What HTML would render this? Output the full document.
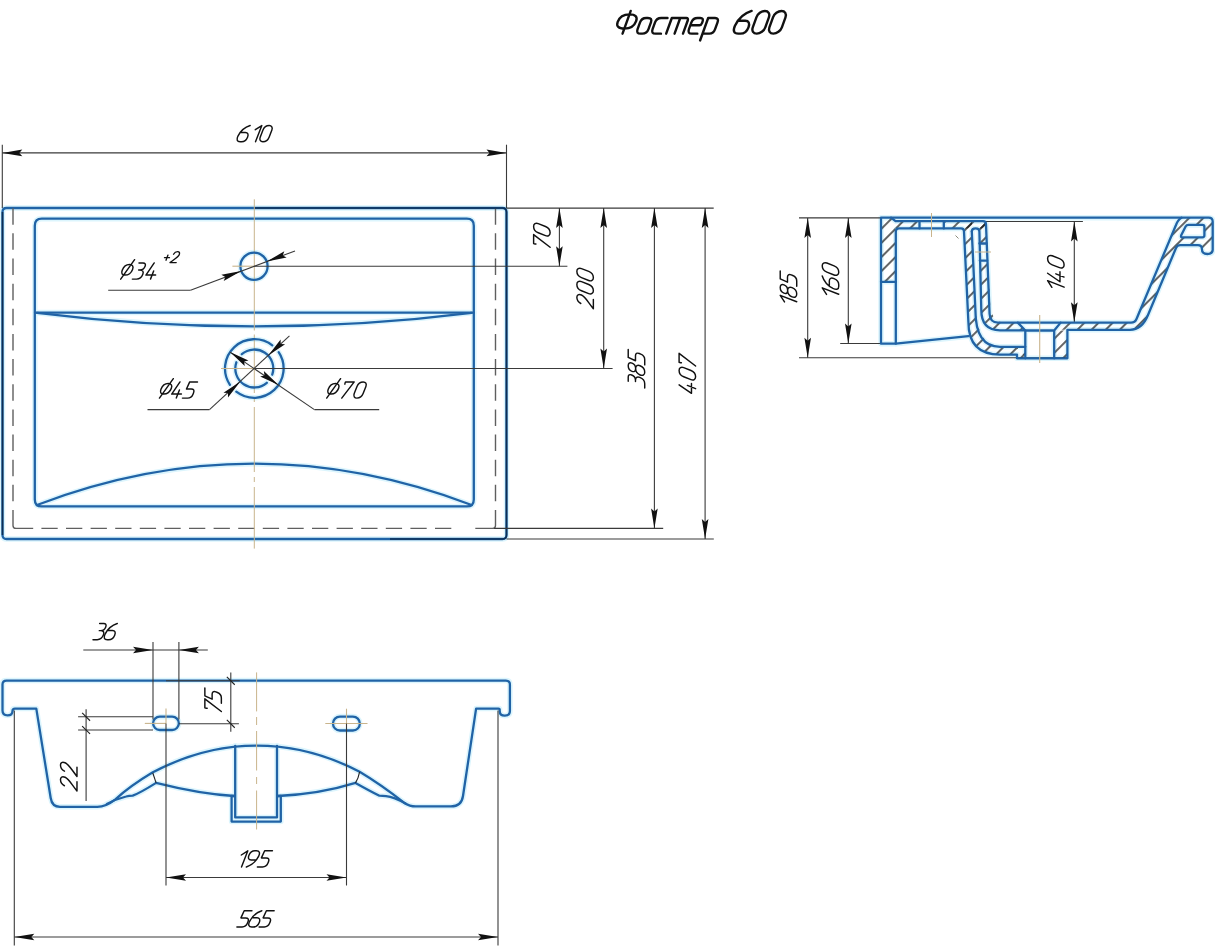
<!DOCTYPE html>
<html><head><meta charset="utf-8"><title>Фостер 600</title>
<style>
html,body{margin:0;padding:0;background:#fff;}
body{width:1215px;height:948px;overflow:hidden;font-family:"Liberation Sans",sans-serif;}
svg{display:block;}
.b{fill:none;stroke:#2063a6;stroke-width:2.3;stroke-linejoin:round;stroke-linecap:round;}
.k{stroke:#3a3a3a;stroke-width:1.1;fill:none;}
.k2{stroke:#222;stroke-width:1.1;fill:none;}
.c{stroke:#c9b48c;stroke-width:1.1;stroke-dasharray:48 4 4 4;fill:none;}
.dsh{fill:none;stroke:#5f5f5f;stroke-width:1.4;}
.k3{fill:none;stroke:#0d2f55;stroke-width:1.6;}
.k4{fill:none;stroke:#8a8a7a;stroke-width:1;}
.c2{stroke:#c9b48c;stroke-width:1.0;fill:none;}
.a{fill:#111;stroke:none;}
.h path{fill:none;stroke:#dcf5fd;stroke-width:5.5;stroke-linejoin:round;stroke-linecap:round;}
.t path{fill:none;stroke:#111;vector-effect:non-scaling-stroke;stroke-linecap:round;stroke-linejoin:round;}
.t{stroke-width:1.3;}
</style></head><body>
<svg width="1215" height="948" viewBox="0 0 1215 948">
<g class="h"><path d="M2.5,212 Q2.5,208 6.5,208 H502.5 Q506.5,208 506.5,212 V535 Q506.5,539 502.5,539 H6.5 Q2.5,539 2.5,535 Z"/><path d="M34.8,225.7 Q34.8,218.7 41.8,218.7 H466.8 Q473.8,218.7 473.8,225.7 V499.4 Q473.8,506.4 466.8,506.4 H41.8 Q34.8,506.4 34.8,499.4 Z"/><path d="M35,312.6 H473.8"/><path d="M37,312.8 Q254,340 471.6,312.8"/><path d="M37,505 Q254,422.4 471.6,505"/><path d="M240.4,266.2 A13.6,13.6 0 1 1 267.6,266.2 A13.6,13.6 0 1 1 240.4,266.2 Z"/><path d="M229.93,384.77 A29.3,29.3 0 0 1 272.31,345.39 M278.67,352.23 A29.3,29.3 0 0 1 236.29,391.61"/><path d="M266.79,382.82 A19,19 0 0 1 236.35,362.28 M241.81,354.18 A19,19 0 0 1 272.25,374.72"/><path d="M881,343.7 V217.7 H1208.7 Q1212.7,217.7 1212.7,221.7 V250 Q1212.7,254 1207.3,254 Q1201.9,254 1201.9,249 Q1201.9,245.2 1197.9,245.2 H1180.2 Q1177.2,245.2 1176,248 L1148,315 Q1142,329.8 1130,329.8 H1067.4 V358.3 H1017 V354.6 H1000 Q968.4,354.6 968.4,322 L964,231.5 Q964,228.4 961,228.4 H899 Q895.8,228.4 895.8,231.5 V343.7 Z"/><path d="M881,281.8 H895.8"/><path d="M895.8,343.7 L968.4,336.2"/><path d="M891,217.7 L895.5,221.2 H983 Q986,221.2 986,224.5 L989.6,314 Q990,322.6 998,322.6 H1131 Q1135,322.6 1136.5,319 L1176,225 Q1178,219.5 1181.5,217.7"/><path d="M919.5,221.2 V228.4 M943.8,221.2 V228.4"/><path d="M971.8,231.5 Q971.8,228.4 975.6,228.4 Q979.4,228.4 979.4,231.5 L981.3,310 Q981.3,330.3 1000,330.3 H1025.3"/><path d="M971.8,231.5 L975.4,310 Q975.4,346.8 1000,346.8 H1025.3"/><path d="M979.4,243.5 H986.5 M979.8,260.6 H987.2"/><path d="M1017.8,322.6 L1025.3,330.5 V358.3 M1060.6,322.6 L1054.2,330.5 V358.3 M1025.3,330.5 H1054.2"/><path d="M1188.5,224.9 H1202.4 Q1204.4,224.9 1204.4,226.9 V235.3 Q1204.4,237.3 1202.4,237.3 H1182.4 Q1180.4,237.3 1181.2,235.3 L1185.6,226.6 Q1186.5,224.9 1188.5,224.9 Z"/><path d="M2.5,684.6 Q2.5,680.6 6.5,680.6 H505.9 Q509.9,680.6 509.9,684.6 V711 Q509.9,715.7 504.8,715.7 Q499.7,715.7 499.7,711 V709.6 Q499.7,708.6 498.5,708.6 H476.1 L463,796 Q461.5,806.4 451,806.4 H415.6 Q410,806.4 404,802.7 Q381,784.6 359.6,771.8 Q310,745.6 256.6,745.6 Q203,745.6 152.4,772.6 Q130,786 115.4,799.4 Q106,806.8 97.3,806.8 H60 Q52,806.8 50.7,798 L36.3,708.6 H15 Q12.5,708.6 12.5,711 Q12.5,715.4 7.5,715.4 Q2.5,715.4 2.5,710.6 Z"/><path d="M106.8,804 Q116,799 126.1,796.5 Q129,795.7 132.7,795.7 Q140,793 156.1,782.9 Q200,794 234.2,796"/><path d="M405.5,803.5 Q394,797 386,796.1 Q383,795.7 379.4,795.7 Q370,791 355.5,782.9 Q320,794 278,796"/><path d="M235.2,745.8 V817.4 H277 V745.8"/><path d="M234.2,796 H231.6 V821.6 H280.8 V796 H278"/><path d="M159.7,716.7 H172.2 A6.65,6.65 0 0 1 172.2,730 H159.7 A6.65,6.65 0 0 1 159.7,716.7 Z"/><path d="M339.9,716.6 H352.9 A6.95,6.95 0 0 1 352.9,730.5 H339.9 A6.95,6.95 0 0 1 339.9,716.6 Z"/></g>
<line class="k" x1="2.3" y1="144.7" x2="2.3" y2="208"/>
<line class="k" x1="506.5" y1="144.7" x2="506.5" y2="208"/>
<line class="k" x1="2.3" y1="152.9" x2="506.5" y2="152.9"/>
<path class="a" d="M2.3,152.9 L22.3,149.6 L19.3,152.9 L22.3,156.2 Z"/>
<path class="a" d="M506.5,152.9 L486.5,156.2 L489.5,152.9 L486.5,149.6 Z"/>
<path class="b" d="M2.5,212 Q2.5,208 6.5,208 H502.5 Q506.5,208 506.5,212 V535 Q506.5,539 502.5,539 H6.5 Q2.5,539 2.5,535 Z"/>
<path class="dsh" d="M13,208.2 V224.7 M495.5,208.2 V224.7 M13,233.35 V249.85 M495.5,233.35 V249.85 M13,258.5 V275 M495.5,258.5 V275 M13,283.65 V300.15 M495.5,283.65 V300.15 M13,308.8 V325.3 M495.5,308.8 V325.3 M13,333.95 V350.45 M495.5,333.95 V350.45 M13,359.1 V375.6 M495.5,359.1 V375.6 M13,384.25 V400.75 M495.5,384.25 V400.75 M13,409.4 V425.9 M495.5,409.4 V425.9 M13,434.55 V451.05 M495.5,434.55 V451.05 M13,459.7 V476.2 M495.5,459.7 V476.2 M13,484.85 V501.35 M495.5,484.85 V501.35 M13,510 V525.4 Q13,528.4 16,528.4 H33.2 M495.5,510 V525.4 Q495.5,528.4 492.5,528.4 H475.3 M41.4,528.4 H57.7 M66,528.4 H82.3 M90.6,528.4 H106.9 M115.2,528.4 H131.5 M139.8,528.4 H156.1 M164.4,528.4 H180.7 M189,528.4 H205.3 M213.6,528.4 H229.9 M238.2,528.4 H254.5 M262.8,528.4 H279.1 M287.4,528.4 H303.7 M312,528.4 H328.3 M336.6,528.4 H352.9 M361.2,528.4 H377.5 M385.8,528.4 H402.1 M410.4,528.4 H426.7 M435,528.4 H451.3"/>
<path class="k3" d="M254,208 H502.5 Q506.5,208 506.5,212 V535 Q506.5,539 502.5,539 H390 M2.5,212 V535"/>
<path class="b" d="M34.8,225.7 Q34.8,218.7 41.8,218.7 H466.8 Q473.8,218.7 473.8,225.7 V499.4 Q473.8,506.4 466.8,506.4 H41.8 Q34.8,506.4 34.8,499.4 Z"/>
<path class="b" d="M35,312.6 H473.8"/>
<path class="b" d="M37,312.8 Q254,340 471.6,312.8"/>
<path class="b" d="M37,505 Q254,422.4 471.6,505"/>
<path class="c2" d="M254.3,199.3 V330.5 M254.3,334.5 V393 M254.3,398 V402 M254.3,407 V472 M254.3,477 V482 M254.3,487 V548.6"/>
<path class="b" d="M240.4,266.2 A13.6,13.6 0 1 1 267.6,266.2 A13.6,13.6 0 1 1 240.4,266.2 Z"/>
<line class="c" x1="232.4" y1="266.2" x2="254" y2="266.2"/>
<line class="k" x1="254" y1="266.2" x2="567.4" y2="266.2"/>
<line class="k" x1="295" y1="250.9" x2="190.5" y2="290.2"/>
<line class="k" x1="190.5" y1="290.2" x2="108.2" y2="290.2"/>
<path class="a" d="M241.26,270.96 L223.68,281.05 L225.33,276.91 L221.37,274.87 Z"/>
<path class="a" d="M266.74,261.44 L284.32,251.35 L282.67,255.49 L286.63,257.53 Z"/>
<path class="b" d="M229.93,384.77 A29.3,29.3 0 0 1 272.31,345.39 M278.67,352.23 A29.3,29.3 0 0 1 236.29,391.61"/>
<path class="b" d="M266.79,382.82 A19,19 0 0 1 236.35,362.28 M241.81,354.18 A19,19 0 0 1 272.25,374.72"/>
<line class="c" x1="221" y1="368.5" x2="254.3" y2="368.5"/>
<line class="k" x1="254.3" y1="368.5" x2="612.6" y2="368.5"/>
<line class="k" x1="289.46" y1="335.83" x2="209.5" y2="409.6"/>
<line class="k" x1="209.5" y1="409.6" x2="147.5" y2="409.6"/>
<path class="a" d="M268.22,355.57 L280.62,339.53 L280.67,343.99 L285.12,344.37 Z"/>
<path class="a" d="M240.38,381.43 L227.98,397.47 L227.93,393.01 L223.48,392.63 Z"/>
<line class="k" x1="230.01" y1="352.12" x2="314.4" y2="409.6"/>
<line class="k" x1="314.4" y1="409.6" x2="379.2" y2="409.6"/>
<path class="a" d="M230.01,352.12 L248.44,360.56 L244.1,361.62 L244.74,366.04 Z"/>
<path class="a" d="M278.59,384.88 L260.16,376.44 L264.5,375.38 L263.86,370.96 Z"/>
<line class="k" x1="506.5" y1="208.1" x2="713.7" y2="208.1"/>
<line class="k" x1="494" y1="528.4" x2="663.2" y2="528.4"/>
<line class="k" x1="506.5" y1="539" x2="713.8" y2="539"/>
<line class="k" x1="559.4" y1="208.1" x2="559.4" y2="266.2"/>
<path class="a" d="M559.4,208.1 L562.7,228.1 L559.4,225.1 L556.1,228.1 Z"/>
<path class="a" d="M559.4,266.2 L556.1,246.2 L559.4,249.2 L562.7,246.2 Z"/>
<line class="k" x1="603.7" y1="208.1" x2="603.7" y2="368.5"/>
<path class="a" d="M603.7,208.1 L607,228.1 L603.7,225.1 L600.4,228.1 Z"/>
<path class="a" d="M603.7,368.5 L600.4,348.5 L603.7,351.5 L607,348.5 Z"/>
<line class="k" x1="654.4" y1="208.1" x2="654.4" y2="528.4"/>
<path class="a" d="M654.4,208.1 L657.7,228.1 L654.4,225.1 L651.1,228.1 Z"/>
<path class="a" d="M654.4,528.4 L651.1,508.4 L654.4,511.4 L657.7,508.4 Z"/>
<line class="k" x1="705.1" y1="208.1" x2="705.1" y2="539"/>
<path class="a" d="M705.1,208.1 L708.4,228.1 L705.1,225.1 L701.8,228.1 Z"/>
<path class="a" d="M705.1,539 L701.8,519 L705.1,522 L708.4,519 Z"/>
<line class="k" x1="799" y1="217.9" x2="881" y2="217.9"/>
<line class="k" x1="840.2" y1="343.5" x2="882" y2="343.5"/>
<line class="k" x1="799" y1="357.8" x2="1067" y2="357.8"/>
<line class="k" x1="985" y1="221.5" x2="1082.9" y2="221.5"/>
<line class="k" x1="807.7" y1="217.9" x2="807.7" y2="357.8"/>
<path class="a" d="M807.7,217.9 L811,237.9 L807.7,234.9 L804.4,237.9 Z"/>
<path class="a" d="M807.7,357.8 L804.4,337.8 L807.7,340.8 L811,337.8 Z"/>
<line class="k" x1="848.3" y1="217.9" x2="848.3" y2="343.5"/>
<path class="a" d="M848.3,217.9 L851.6,237.9 L848.3,234.9 L845,237.9 Z"/>
<path class="a" d="M848.3,343.5 L845,323.5 L848.3,326.5 L851.6,323.5 Z"/>
<line class="k" x1="1074.3" y1="221.5" x2="1074.3" y2="322.3"/>
<path class="a" d="M1074.3,221.5 L1077.6,241.5 L1074.3,238.5 L1071,241.5 Z"/>
<path class="a" d="M1074.3,322.3 L1071,302.3 L1074.3,305.3 L1077.6,302.3 Z"/>
<defs><pattern id="hp" patternUnits="userSpaceOnUse" width="10" height="10" patternTransform="rotate(45)"><line x1="5" y1="0" x2="5" y2="10" stroke="#000" stroke-width="1.2"/></pattern></defs>
<path d="M881,217.7 H891 L895.5,221.2 V281.8 H881 Z" fill="url(#hp)" fill-rule="evenodd" stroke="none"/>
<path d="M895.5,221.2 H919.5 V228.4 H895.5 Z" fill="url(#hp)" fill-rule="evenodd" stroke="none"/>
<path d="M943.8,221.2 H986 V228.4 H943.8 Z" fill="url(#hp)" fill-rule="evenodd" stroke="none"/>
<path d="M964,221.2 H972 L975.4,300 Q975.4,346.5 1000,346.5 H1025.3 V354.6 H1000 Q968.4,354.6 968.4,320 L964,228 Z" fill="url(#hp)" fill-rule="evenodd" stroke="none"/>
<path d="M979.4,228 V221.2 H986 L990,300 Q990,322.6 1005,322.6 H1017.8 L1025.3,330.5 H1000 Q981.3,330.5 981.3,310 L979.4,260.6 H986 V243.5 H979.4 Z" fill="url(#hp)" fill-rule="evenodd" stroke="none"/>
<path d="M1060.6,322.6 H1134 L1179.7,217.7 H1212.7 V254 L1201.9,254 V245.2 H1177.2 L1145,322.6 Q1141,329.8 1134,329.8 H1054.2 Z M1188.5,224.9 H1202.4 Q1204.4,224.9 1204.4,226.9 V235.3 Q1204.4,237.3 1202.4,237.3 H1182.4 Q1180.4,237.3 1181.2,235.3 L1185.6,226.6 Q1186.5,224.9 1188.5,224.9 Z" fill="url(#hp)" fill-rule="evenodd" stroke="none"/>
<path d="M1054.2,330.5 H1067.4 V358.3 H1054.2 Z" fill="url(#hp)" fill-rule="evenodd" stroke="none"/>
<path d="M1017,347 H1025.3 V358.3 H1017 Z" fill="url(#hp)" fill-rule="evenodd" stroke="none"/>
<path class="b" d="M881,343.7 V217.7 H1208.7 Q1212.7,217.7 1212.7,221.7 V250 Q1212.7,254 1207.3,254 Q1201.9,254 1201.9,249 Q1201.9,245.2 1197.9,245.2 H1180.2 Q1177.2,245.2 1176,248 L1148,315 Q1142,329.8 1130,329.8 H1067.4 V358.3 H1017 V354.6 H1000 Q968.4,354.6 968.4,322 L964,231.5 Q964,228.4 961,228.4 H899 Q895.8,228.4 895.8,231.5 V343.7 Z"/>
<path class="b" d="M881,281.8 H895.8"/>
<path class="b" d="M895.8,343.7 L968.4,336.2"/>
<path class="b" d="M891,217.7 L895.5,221.2 H983 Q986,221.2 986,224.5 L989.6,314 Q990,322.6 998,322.6 H1131 Q1135,322.6 1136.5,319 L1176,225 Q1178,219.5 1181.5,217.7"/>
<path class="b" d="M919.5,221.2 V228.4 M943.8,221.2 V228.4"/>
<path class="b" d="M971.8,231.5 Q971.8,228.4 975.6,228.4 Q979.4,228.4 979.4,231.5 L981.3,310 Q981.3,330.3 1000,330.3 H1025.3"/>
<path class="b" d="M971.8,231.5 L975.4,310 Q975.4,346.8 1000,346.8 H1025.3"/>
<path class="b" d="M979.4,243.5 H986.5 M979.8,260.6 H987.2"/>
<path class="b" d="M1017.8,322.6 L1025.3,330.5 V358.3 M1060.6,322.6 L1054.2,330.5 V358.3 M1025.3,330.5 H1054.2"/>
<path class="b" d="M1188.5,224.9 H1202.4 Q1204.4,224.9 1204.4,226.9 V235.3 Q1204.4,237.3 1202.4,237.3 H1182.4 Q1180.4,237.3 1181.2,235.3 L1185.6,226.6 Q1186.5,224.9 1188.5,224.9 Z"/>
<line class="c2" x1="931.5" y1="213" x2="931.5" y2="237"/>
<line class="k4" x1="955.5" y1="235.5" x2="958.5" y2="238.5"/>
<line class="c2" x1="975" y1="252" x2="991" y2="252"/>
<line class="c" x1="1039.7" y1="315" x2="1039.7" y2="364"/>
<path class="b" d="M2.5,684.6 Q2.5,680.6 6.5,680.6 H505.9 Q509.9,680.6 509.9,684.6 V711 Q509.9,715.7 504.8,715.7 Q499.7,715.7 499.7,711 V709.6 Q499.7,708.6 498.5,708.6 H476.1 L463,796 Q461.5,806.4 451,806.4 H415.6 Q410,806.4 404,802.7 Q381,784.6 359.6,771.8 Q310,745.6 256.6,745.6 Q203,745.6 152.4,772.6 Q130,786 115.4,799.4 Q106,806.8 97.3,806.8 H60 Q52,806.8 50.7,798 L36.3,708.6 H15 Q12.5,708.6 12.5,711 Q12.5,715.4 7.5,715.4 Q2.5,715.4 2.5,710.6 Z"/>
<path class="b" d="M106.8,804 Q116,799 126.1,796.5 Q129,795.7 132.7,795.7 Q140,793 156.1,782.9 Q200,794 234.2,796"/>
<path class="b" d="M405.5,803.5 Q394,797 386,796.1 Q383,795.7 379.4,795.7 Q370,791 355.5,782.9 Q320,794 278,796"/>
<line class="k2" x1="152.8" y1="773" x2="156.1" y2="782.9"/>
<path class="k2" d="M359.6,771.8 Q358.5,778 355.5,782.9"/>
<path class="b" d="M235.2,745.8 V817.4 H277 V745.8"/>
<path class="b" d="M234.2,796 H231.6 V821.6 H280.8 V796 H278"/>
<path class="b" d="M159.7,716.7 H172.2 A6.65,6.65 0 0 1 172.2,730 H159.7 A6.65,6.65 0 0 1 159.7,716.7 Z"/>
<path class="b" d="M339.9,716.6 H352.9 A6.95,6.95 0 0 1 352.9,730.5 H339.9 A6.95,6.95 0 0 1 339.9,716.6 Z"/>
<path class="c2" d="M256.6,672.4 V711.4 M256.6,717 V725 M256.6,731 V770.5 M256.6,777 V784 M256.6,790.5 V829.5"/>
<line class="c" x1="144.8" y1="723.4" x2="166" y2="723.4"/>
<line class="c" x1="166" y1="708.5" x2="166" y2="723.4"/>
<line class="c" x1="325.3" y1="723.5" x2="367.5" y2="723.5"/>
<line class="c" x1="346.5" y1="708.7" x2="346.5" y2="723.5"/>
<line class="k" x1="153" y1="641.9" x2="153" y2="719.6"/>
<line class="k" x1="178.9" y1="641.9" x2="178.9" y2="719.6"/>
<line class="k" x1="83.3" y1="650" x2="207.8" y2="650"/>
<path class="a" d="M153,650 L133,653.3 L136,650 L133,646.7 Z"/>
<path class="a" d="M178.9,650 L198.9,646.7 L195.9,650 L198.9,653.3 Z"/>
<line class="k" x1="166" y1="680.8" x2="239.8" y2="680.8"/>
<line class="k" x1="178.9" y1="723.8" x2="238.9" y2="723.8"/>
<line class="k" x1="230.8" y1="672.5" x2="230.8" y2="731.8"/>
<line class="k2" x1="226.84" y1="676.84" x2="234.76" y2="684.76"/>
<line class="k2" x1="226.84" y1="719.84" x2="234.76" y2="727.76"/>
<line class="k" x1="78.1" y1="716.8" x2="153" y2="716.8"/>
<line class="k" x1="78.1" y1="730" x2="153" y2="730"/>
<line class="k" x1="86.1" y1="709.3" x2="86.1" y2="801"/>
<line class="k2" x1="82.14" y1="712.84" x2="90.06" y2="720.76"/>
<line class="k2" x1="82.14" y1="726.04" x2="90.06" y2="733.96"/>
<line class="k" x1="14.3" y1="710.5" x2="14.3" y2="945.6"/>
<line class="k" x1="498" y1="710.5" x2="498" y2="945.6"/>
<line class="k" x1="166" y1="723.4" x2="166" y2="885.5"/>
<line class="k" x1="346.5" y1="723.5" x2="346.5" y2="885.5"/>
<line class="k" x1="166" y1="877.5" x2="346.5" y2="877.5"/>
<path class="a" d="M166,877.5 L186,874.2 L183,877.5 L186,880.8 Z"/>
<path class="a" d="M346.5,877.5 L326.5,880.8 L329.5,877.5 L326.5,874.2 Z"/>
<line class="k" x1="14.3" y1="937" x2="498" y2="937"/>
<path class="a" d="M14.3,937 L34.3,933.7 L31.3,937 L34.3,940.3 Z"/>
<path class="a" d="M498,937 L478,940.3 L481,937 L478,933.7 Z"/>
<g class="t" id="t_title" transform="translate(613.44,33.66) matrix(22.73,0,-8.18,22.73,0,0)" style="stroke-width:2.4"><path transform="translate(0,0)" d="M0.4,-1 V0 M0.4,-0.85 C0.13,-0.85 0,-0.72 0,-0.52 C0,-0.32 0.15,-0.22 0.4,-0.22 C0.66,-0.22 0.8,-0.35 0.8,-0.55 C0.8,-0.75 0.66,-0.85 0.4,-0.85 Z"/><path transform="translate(0.99,0)" d="M0,-0.5 V-0.2 C0,-0.06 0.07,0 0.2,0 H0.28 C0.41,0 0.48,-0.06 0.48,-0.2 V-0.5 C0.48,-0.63 0.41,-0.69 0.28,-0.69 H0.2 C0.07,-0.69 0,-0.63 0,-0.5 Z"/><path transform="translate(1.65,0)" d="M0.48,-0.69 H0.2 C0.07,-0.69 0,-0.63 0,-0.5 V-0.2 C0,-0.06 0.07,0 0.2,0 H0.44"/><path transform="translate(2.32,0)" d="M0,0 V-0.69 H0.64 C0.7,-0.69 0.74,-0.65 0.74,-0.58 V0 M0.37,-0.69 V0"/><path transform="translate(3.25,0)" d="M0.44,0 H0.2 C0.07,0 0,-0.06 0,-0.2 V-0.5 C0,-0.63 0.07,-0.69 0.2,-0.69 H0.32 C0.43,-0.69 0.48,-0.63 0.48,-0.53 V-0.46 C0.48,-0.4 0.45,-0.37 0.4,-0.37 H0"/><path transform="translate(3.92,0)" d="M0,0.3 V-0.69 H0.3 C0.42,-0.69 0.48,-0.63 0.48,-0.5 V-0.2 C0.48,-0.06 0.42,0 0.3,0 H0"/><path transform="translate(5.22,0)" d="M0.5,-1 C0.22,-0.9 0.04,-0.68 0,-0.35 C-0.02,-0.12 0.08,0 0.27,0 H0.36 C0.53,0 0.62,-0.11 0.62,-0.28 C0.62,-0.46 0.53,-0.57 0.37,-0.57 H0.08"/><path transform="translate(6.03,0)" d="M0,-0.72 V-0.28 A0.275,0.28 0 0 0 0.55,-0.28 V-0.72 A0.275,0.28 0 0 0 0,-0.72 Z"/><path transform="translate(6.76,0)" d="M0,-0.72 V-0.28 A0.275,0.28 0 0 0 0.55,-0.28 V-0.72 A0.275,0.28 0 0 0 0,-0.72 Z"/></g>
<g class="t" id="t_610" transform="translate(235.74,141.72) matrix(16.2,0,-6.32,16.2,0,0)" style="stroke-width:1.45"><path transform="translate(0,0)" d="M0.5,-1 C0.22,-0.9 0.04,-0.68 0,-0.35 C-0.02,-0.12 0.08,0 0.27,0 H0.36 C0.53,0 0.62,-0.11 0.62,-0.28 C0.62,-0.46 0.53,-0.57 0.37,-0.57 H0.08"/><path transform="translate(0.8,0)" d="M0.12,-0.74 L0.42,-1 V0"/><path transform="translate(1.4,0)" d="M0,-0.72 V-0.28 A0.275,0.28 0 0 0 0.55,-0.28 V-0.72 A0.275,0.28 0 0 0 0,-0.72 Z"/></g>
<g class="t" id="t_o34" transform="translate(118.58,279.12) matrix(16.2,0,-6.32,16.2,0,0)" style="stroke-width:1.45"><path transform="translate(0,0)" d="M0.32,-0.9 C0.14,-0.9 0.01,-0.76 0.01,-0.55 C0.01,-0.36 0.12,-0.25 0.3,-0.25 C0.49,-0.25 0.63,-0.39 0.63,-0.6 C0.63,-0.79 0.51,-0.9 0.32,-0.9 Z M0.13,0 L0.52,-1.2"/><path transform="translate(0.85,0)" d="M0.02,-1 H0.27 C0.4,-1 0.48,-0.92 0.48,-0.79 C0.48,-0.65 0.39,-0.56 0.25,-0.56 H0.17 M0.25,-0.56 C0.42,-0.56 0.53,-0.46 0.53,-0.3 C0.53,-0.11 0.42,0 0.26,0 H0"/><path transform="translate(1.59,0)" d="M0.22,-1 L0,-0.25 H0.6 M0.38,-0.5 V0"/></g>
<g class="t" id="t_p2" transform="translate(162.58,262.6) matrix(11,0,-4.29,11,0,0)" style="stroke-width:1.35"><path transform="translate(0,0)" d="M0,-0.45 H0.45 M0.225,-0.68 V-0.22"/><path transform="translate(0.68,0)" d="M0.02,-0.76 C0.05,-0.95 0.2,-1 0.3,-1 C0.45,-1 0.55,-0.9 0.55,-0.72 C0.55,-0.5 0.3,-0.35 0,0 H0.56"/></g>
<g class="t" id="t_o45" transform="translate(157.32,398.1) matrix(16.2,0,-6.32,16.2,0,0)" style="stroke-width:1.45"><path transform="translate(0,0)" d="M0.32,-0.9 C0.14,-0.9 0.01,-0.76 0.01,-0.55 C0.01,-0.36 0.12,-0.25 0.3,-0.25 C0.49,-0.25 0.63,-0.39 0.63,-0.6 C0.63,-0.79 0.51,-0.9 0.32,-0.9 Z M0.13,0 L0.52,-1.2"/><path transform="translate(0.79,0)" d="M0.22,-1 L0,-0.25 H0.6 M0.38,-0.5 V0"/><path transform="translate(1.55,0)" d="M0.54,-1 H0.06 L0.03,-0.56 H0.33 C0.47,-0.56 0.56,-0.48 0.56,-0.33 V-0.24 C0.56,-0.09 0.47,0 0.32,0 H0"/></g>
<g class="t" id="t_o70" transform="translate(324.58,398.1) matrix(16.2,0,-6.32,16.2,0,0)" style="stroke-width:1.45"><path transform="translate(0,0)" d="M0.32,-0.9 C0.14,-0.9 0.01,-0.76 0.01,-0.55 C0.01,-0.36 0.12,-0.25 0.3,-0.25 C0.49,-0.25 0.63,-0.39 0.63,-0.6 C0.63,-0.79 0.51,-0.9 0.32,-0.9 Z M0.13,0 L0.52,-1.2"/><path transform="translate(0.9,0)" d="M0.02,-0.86 Q0,-0.9 0,-0.95 V-1 H0.54 L0.16,0"/><path transform="translate(1.72,0)" d="M0,-0.72 V-0.28 A0.275,0.28 0 0 0 0.55,-0.28 V-0.72 A0.275,0.28 0 0 0 0,-0.72 Z"/></g>
<g class="t" id="t_70" transform="translate(550.12,249.94) rotate(-90) matrix(16.5,0,-6.44,16.5,0,0)" style="stroke-width:1.45"><path transform="translate(0,0)" d="M0.02,-0.86 Q0,-0.9 0,-0.95 V-1 H0.54 L0.16,0"/><path transform="translate(0.76,0)" d="M0,-0.72 V-0.28 A0.275,0.28 0 0 0 0.55,-0.28 V-0.72 A0.275,0.28 0 0 0 0,-0.72 Z"/></g>
<g class="t" id="t_200" transform="translate(593.36,308.72) rotate(-90) matrix(16.5,0,-6.44,16.5,0,0)" style="stroke-width:1.45"><path transform="translate(0,0)" d="M0.02,-0.76 C0.05,-0.95 0.2,-1 0.3,-1 C0.45,-1 0.55,-0.9 0.55,-0.72 C0.55,-0.5 0.3,-0.35 0,0 H0.56"/><path transform="translate(0.81,0)" d="M0,-0.72 V-0.28 A0.275,0.28 0 0 0 0.55,-0.28 V-0.72 A0.275,0.28 0 0 0 0,-0.72 Z"/><path transform="translate(1.6,0)" d="M0,-0.72 V-0.28 A0.275,0.28 0 0 0 0.55,-0.28 V-0.72 A0.275,0.28 0 0 0 0,-0.72 Z"/></g>
<g class="t" id="t_385" transform="translate(644.72,387.98) rotate(-90) matrix(16.5,0,-6.44,16.5,0,0)" style="stroke-width:1.45"><path transform="translate(0,0)" d="M0.02,-1 H0.27 C0.4,-1 0.48,-0.92 0.48,-0.79 C0.48,-0.65 0.39,-0.56 0.25,-0.56 H0.17 M0.25,-0.56 C0.42,-0.56 0.53,-0.46 0.53,-0.3 C0.53,-0.11 0.42,0 0.26,0 H0"/><path transform="translate(0.68,0)" d="M0.28,-0.55 C0.12,-0.55 0.03,-0.63 0.03,-0.77 C0.03,-0.92 0.13,-1 0.28,-1 C0.43,-1 0.53,-0.92 0.53,-0.77 C0.53,-0.63 0.44,-0.55 0.28,-0.55 C0.1,-0.55 0,-0.44 0,-0.28 C0,-0.1 0.12,0 0.28,0 C0.44,0 0.56,-0.1 0.56,-0.28 C0.56,-0.44 0.46,-0.55 0.28,-0.55 Z"/><path transform="translate(1.4,0)" d="M0.54,-1 H0.06 L0.03,-0.56 H0.33 C0.47,-0.56 0.56,-0.48 0.56,-0.33 V-0.24 C0.56,-0.09 0.47,0 0.32,0 H0"/></g>
<g class="t" id="t_407" transform="translate(695.6,394.9) rotate(-90) matrix(16.5,0,-6.44,16.5,0,0)" style="stroke-width:1.45"><path transform="translate(0,0)" d="M0.22,-1 L0,-0.25 H0.6 M0.38,-0.5 V0"/><path transform="translate(0.82,0)" d="M0,-0.72 V-0.28 A0.275,0.28 0 0 0 0.55,-0.28 V-0.72 A0.275,0.28 0 0 0 0,-0.72 Z"/><path transform="translate(1.59,0)" d="M0.02,-0.86 Q0,-0.9 0,-0.95 V-1 H0.54 L0.16,0"/></g>
<g class="t" id="t_185" transform="translate(796.72,308.68) rotate(-90) matrix(16.5,0,-6.44,16.5,0,0)" style="stroke-width:1.45"><path transform="translate(0,0)" d="M0.12,-0.74 L0.42,-1 V0"/><path transform="translate(0.61,0)" d="M0.28,-0.55 C0.12,-0.55 0.03,-0.63 0.03,-0.77 C0.03,-0.92 0.13,-1 0.28,-1 C0.43,-1 0.53,-0.92 0.53,-0.77 C0.53,-0.63 0.44,-0.55 0.28,-0.55 C0.1,-0.55 0,-0.44 0,-0.28 C0,-0.1 0.12,0 0.28,0 C0.44,0 0.56,-0.1 0.56,-0.28 C0.56,-0.44 0.46,-0.55 0.28,-0.55 Z"/><path transform="translate(1.36,0)" d="M0.54,-1 H0.06 L0.03,-0.56 H0.33 C0.47,-0.56 0.56,-0.48 0.56,-0.33 V-0.24 C0.56,-0.09 0.47,0 0.32,0 H0"/></g>
<g class="t" id="t_160" transform="translate(838.74,301.18) rotate(-90) matrix(16.5,0,-6.44,16.5,0,0)" style="stroke-width:1.45"><path transform="translate(0,0)" d="M0.12,-0.74 L0.42,-1 V0"/><path transform="translate(0.64,0)" d="M0.5,-1 C0.22,-0.9 0.04,-0.68 0,-0.35 C-0.02,-0.12 0.08,0 0.27,0 H0.36 C0.53,0 0.62,-0.11 0.62,-0.28 C0.62,-0.46 0.53,-0.57 0.37,-0.57 H0.08"/><path transform="translate(1.48,0)" d="M0,-0.72 V-0.28 A0.275,0.28 0 0 0 0.55,-0.28 V-0.72 A0.275,0.28 0 0 0 0,-0.72 Z"/></g>
<g class="t" id="t_140" transform="translate(1064.1,294.06) rotate(-90) matrix(16.5,0,-6.44,16.5,0,0)" style="stroke-width:1.45"><path transform="translate(0,0)" d="M0.12,-0.74 L0.42,-1 V0"/><path transform="translate(0.65,0)" d="M0.22,-1 L0,-0.25 H0.6 M0.38,-0.5 V0"/><path transform="translate(1.49,0)" d="M0,-0.72 V-0.28 A0.275,0.28 0 0 0 0.55,-0.28 V-0.72 A0.275,0.28 0 0 0 0,-0.72 Z"/></g>
<g class="t" id="t_36" transform="translate(93,639.72) matrix(16.2,0,-6.32,16.2,0,0)" style="stroke-width:1.45"><path transform="translate(0,0)" d="M0.02,-1 H0.27 C0.4,-1 0.48,-0.92 0.48,-0.79 C0.48,-0.65 0.39,-0.56 0.25,-0.56 H0.17 M0.25,-0.56 C0.42,-0.56 0.53,-0.46 0.53,-0.3 C0.53,-0.11 0.42,0 0.26,0 H0"/><path transform="translate(0.61,0)" d="M0.5,-1 C0.22,-0.9 0.04,-0.68 0,-0.35 C-0.02,-0.12 0.08,0 0.27,0 H0.36 C0.53,0 0.62,-0.11 0.62,-0.28 C0.62,-0.46 0.53,-0.57 0.37,-0.57 H0.08"/></g>
<g class="t" id="t_75" transform="translate(221.36,714.18) rotate(-90) matrix(16.5,0,-6.44,16.5,0,0)" style="stroke-width:1.45"><path transform="translate(0,0)" d="M0.02,-0.86 Q0,-0.9 0,-0.95 V-1 H0.54 L0.16,0"/><path transform="translate(0.66,0)" d="M0.54,-1 H0.06 L0.03,-0.56 H0.33 C0.47,-0.56 0.56,-0.48 0.56,-0.33 V-0.24 C0.56,-0.09 0.47,0 0.32,0 H0"/></g>
<g class="t" id="t_22" transform="translate(76.98,790.98) rotate(-90) matrix(16.5,0,-6.44,16.5,0,0)" style="stroke-width:1.45"><path transform="translate(0,0)" d="M0.02,-0.76 C0.05,-0.95 0.2,-1 0.3,-1 C0.45,-1 0.55,-0.9 0.55,-0.72 C0.55,-0.5 0.3,-0.35 0,0 H0.56"/><path transform="translate(0.88,0)" d="M0.02,-0.76 C0.05,-0.95 0.2,-1 0.3,-1 C0.45,-1 0.55,-0.9 0.55,-0.72 C0.55,-0.5 0.3,-0.35 0,0 H0.56"/></g>
<g class="t" id="t_195" transform="translate(234.7,866.98) matrix(16.2,0,-6.32,16.2,0,0)" style="stroke-width:1.45"><path transform="translate(0,0)" d="M0.12,-0.74 L0.42,-1 V0"/><path transform="translate(0.6,0)" d="M0.12,0 C0.4,-0.1 0.58,-0.32 0.62,-0.65 C0.64,-0.88 0.54,-1 0.35,-1 H0.26 C0.09,-1 0,-0.89 0,-0.72 C0,-0.54 0.09,-0.43 0.25,-0.43 H0.54"/><path transform="translate(1.4,0)" d="M0.54,-1 H0.06 L0.03,-0.56 H0.33 C0.47,-0.56 0.56,-0.48 0.56,-0.33 V-0.24 C0.56,-0.09 0.47,0 0.32,0 H0"/></g>
<g class="t" id="t_565" transform="translate(236.9,926.98) matrix(16.2,0,-6.32,16.2,0,0)" style="stroke-width:1.45"><path transform="translate(0,0)" d="M0.54,-1 H0.06 L0.03,-0.56 H0.33 C0.47,-0.56 0.56,-0.48 0.56,-0.33 V-0.24 C0.56,-0.09 0.47,0 0.32,0 H0"/><path transform="translate(0.65,0)" d="M0.5,-1 C0.22,-0.9 0.04,-0.68 0,-0.35 C-0.02,-0.12 0.08,0 0.27,0 H0.36 C0.53,0 0.62,-0.11 0.62,-0.28 C0.62,-0.46 0.53,-0.57 0.37,-0.57 H0.08"/><path transform="translate(1.37,0)" d="M0.54,-1 H0.06 L0.03,-0.56 H0.33 C0.47,-0.56 0.56,-0.48 0.56,-0.33 V-0.24 C0.56,-0.09 0.47,0 0.32,0 H0"/></g>
</svg>
</body></html>
